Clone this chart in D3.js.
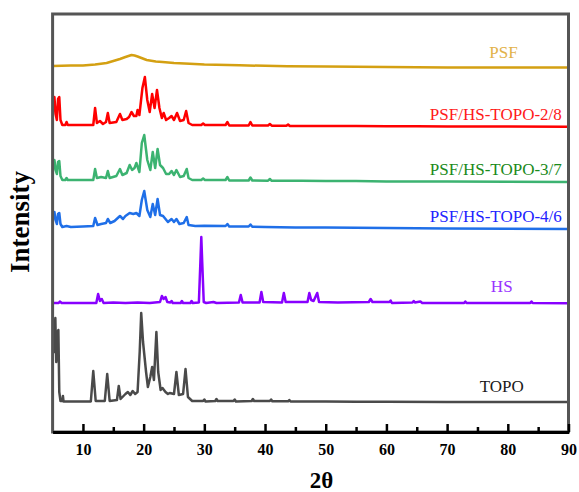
<!DOCTYPE html>
<html>
<head>
<meta charset="utf-8">
<script src="https://cdn.jsdelivr.net/npm/d3@7"></script>
<style>
  body { margin: 0; background: #fff; }
  text { font-family: "Liberation Serif", "Times New Roman", serif; }
</style>
</head>
<body>
<div id="vis"></div>
<script>
const width = 579;
const height = 492;
const margin = { top: 14, right: 10.5, bottom: 60, left: 52.6 };

// x tick labels (2θ)
const majorTicks = [10, 20, 30, 40, 50, 60, 70, 80, 90];
const minorTicks = [15, 25, 35, 45, 55, 65, 75, 85];

// XRD patterns, [2θ, intensity (a.u., stacked)]
const psf = [[5,366],[8,366.5],[10,366.5],[12,367.5],[13.9,369],[16.1,373],[17,375],[18,377],[18.5,376.5],[19,375.5],[20.5,372],[22,370.5],[23.1,370],[25,369],[27.6,368.3],[30,367.5],[35.8,366.7],[43.7,365.7],[50,365.5],[60,365],[70,364.6],[80,364.5],[90,364.5]];

const psf28 = [[5.0,307],[5.1,333],[5.3,335],[5.5,318],[5.7,312],[5.9,333],[6.1,335],[6.3,312],[6.6,307],[7.1,307],[7.3,310],[7.5,307],[11.7,307],[12.0,324],[12.3,309],[12.8,311],[13.3,308],[13.8,310],[14.1,319],[14.4,309],[15.5,310],[16.1,318],[16.5,312],[17.2,313],[17.6,315],[18.0,320],[18.4,316],[18.8,316],[19.0,322],[19.3,317],[19.8,344],[20.2,355],[20.6,332],[21.0,320],[21.4,338],[21.8,324],[22.2,342],[22.6,324],[23.0,314],[23.3,319],[23.7,312],[24.2,314],[24.6,316],[25.0,312],[25.5,319],[26.0,311],[26.6,312],[27.0,321],[27.4,309],[28.0,307],[29.5,307],[29.8,308.5],[30.1,307],[33.5,307],[33.8,310],[34.1,306.5],[37.3,306.5],[37.6,310],[37.9,306.5],[40.5,306.5],[40.8,308],[41.1,306.3],[43.5,306.3],[43.8,307.5],[44.1,306],[50,306],[55,306],[60,305.8],[65,305.8],[70,305.5],[80,305.5],[90,305.3]];

const psf37 = [[5.0,252],[5.1,270],[5.3,272],[5.5,262],[5.7,258],[5.9,270],[6.1,271],[6.3,256],[6.6,252],[7.1,252],[7.3,254],[7.5,252],[11.7,252],[12.0,263],[12.3,254],[13.0,255],[13.8,254],[14.1,261],[14.4,254],[15.5,256],[16.1,263],[16.5,257],[17.2,259],[17.7,267],[18.1,262],[18.5,264],[18.8,269],[19.3,260],[19.7,289],[20.1,297],[20.6,272],[21.1,262],[21.5,280],[21.9,264],[22.3,283],[22.7,267],[23.2,264],[23.7,258],[24.2,258],[24.6,261],[25.0,257],[25.4,262],[26.0,255],[26.6,256],[27.1,263],[27.4,254],[28.0,252],[29.5,252],[29.8,253.5],[30.1,252],[33.5,252],[33.8,255],[34.1,251.5],[37.3,251.5],[37.6,254.5],[37.9,251.5],[40.5,251.3],[40.8,253],[41.1,251.2],[46,251.2],[50,251],[55,251],[60,250.5],[70,250.5],[80,250.2],[90,250]];

const psf46 = [[5.0,205],[5.1,218],[5.3,220],[5.5,212],[5.7,208],[5.9,218],[6.1,219],[6.3,208],[6.6,205],[7.3,206],[8,205],[10,205.5],[11.7,206],[12.0,214],[12.4,207],[13.0,208],[13.8,209],[14.1,213],[14.5,209],[15.2,211],[16.1,216],[16.6,213],[17.0,216],[17.7,219],[18.3,218],[18.8,219],[19.3,216],[19.7,232],[20.1,241],[20.6,222],[21.1,215],[21.5,228],[21.9,217],[22.3,233],[22.7,217],[23.2,216],[24.0,210],[24.6,213],[25.0,210],[25.4,213],[25.9,208],[26.6,209],[27.1,215],[27.4,207],[28.5,206],[30,206.3],[33.5,206],[33.8,208],[34.1,205.5],[37.3,205.5],[37.6,207.5],[37.9,205.2],[40,205],[45,204.5],[50,204.5],[60,204],[70,203.5],[80,203.2],[90,203]];

const hs = [[5,129],[6.0,129],[6.2,130.5],[6.5,129],[12.2,129],[12.5,138],[12.8,131],[13.1,133],[13.4,129],[15,129.5],[17,129],[19,129.5],[21,129],[22.7,130],[23.0,136],[23.3,133],[23.6,135],[23.9,130],[24.4,129.5],[24.6,131],[24.8,129],[26.1,129],[26.3,131],[26.5,129],[27.7,129],[27.9,131],[28.1,129],[29.1,129.5],[29.35,170],[29.5,195],[29.65,170],[29.9,130],[30.3,129],[31.5,130],[32,129],[35.7,129.5],[36.0,137],[36.3,129.5],[39.1,129.5],[39.4,140],[39.7,130],[42.8,129.5],[43.1,139],[43.4,130],[47.0,130],[47.3,139],[47.6,132],[48.0,131],[48.6,139],[48.9,130],[52,129.5],[57.1,130],[57.4,133],[57.7,130],[60.5,130],[60.7,131.5],[60.9,129],[64.3,129.5],[64.5,131],[64.7,129.5],[65.6,130.5],[65.9,129],[72.8,129],[73.0,130.5],[73.2,129],[83.7,129],[83.9,130.5],[84.1,129],[90,128.7]];

const topo = [[5.0,107],[5.15,112],[5.3,80],[5.45,114],[5.6,70],[5.8,100],[5.95,102],[6.1,40],[6.3,31],[6.6,31],[6.7,36],[6.8,30.5],[11.3,30.5],[11.7,61],[12.1,31],[13.6,31],[14.0,58],[14.4,31],[15.6,32],[15.9,46],[16.2,33],[17.0,38],[17.4,40],[17.8,37],[18.2,41],[18.6,38],[19.0,40],[19.35,80],[19.6,119],[19.9,90],[20.1,78],[20.4,60],[20.7,45],[21.1,55],[21.4,65],[21.7,52],[22.1,100],[22.4,60],[22.8,42],[23.1,44],[23.6,40],[24.0,38],[24.3,39],[25.0,38],[25.4,60],[25.8,37],[26.5,38],[26.9,63],[27.3,35],[28.0,31],[29.8,31],[30.0,32.5],[30.2,30.5],[31.8,31],[32.0,33],[32.2,31],[34.8,31],[35.0,32.5],[35.2,30.5],[37.8,31],[38.0,33],[38.2,31],[40.8,31],[41.0,32.5],[41.2,30.7],[43.8,30.7],[44.0,32],[44.2,30.5],[47,30.5],[50,30.5],[55,30.3],[60,30.3],[70,30],[80,30],[90,30]];

const seriesNames = ["PSF", "PSF/HS-TOPO-2/8", "PSF/HS-TOPO-3/7", "PSF/HS-TOPO-4/6", "HS", "TOPO"];
const seriesData = [psf, psf28, psf37, psf46, hs, topo];

// styling / label placement (2θ, intensity, anchor)
const lineColors = ["#d4a012", "#ff0000", "#3cb371", "#1f6fe8", "#8800ff", "#4a4a4a"];
const textColors = ["#e2b24a", "#ff1a1a", "#1a8a1a", "#2222ff", "#9933ff", "#1a1a1a"];
const labelPos = [[79.3, 374, "middle"], [88.9, 312, "end"], [88.9, 257, "end"], [88.9, 210, "end"], [79.0, 140, "middle"], [79.0, 40, "middle"]];

const svg = d3.select("#vis").append("svg")
  .attr("width", width)
  .attr("height", height);

const x = d3.scaleLinear().domain([5, 90]).range([margin.left, width - margin.right]);
const y = d3.scaleLinear().domain([0, 418]).range([height - margin.bottom, margin.top]);

svg.append("clipPath").attr("id", "clip")
  .append("rect")
  .attr("x", margin.left).attr("y", margin.top)
  .attr("width", width - margin.right - margin.left)
  .attr("height", height - margin.bottom - margin.top);

const line = d3.line().x(d => x(d[0])).y(d => y(d[1]));

svg.append("g").attr("clip-path", "url(#clip)")
  .selectAll("path")
  .data(seriesData)
  .join("path")
  .attr("d", line)
  .attr("fill", "none")
  .attr("stroke", (d, i) => lineColors[i])
  .attr("stroke-width", 2.5)
  .attr("stroke-linejoin", "round");

// series labels
svg.append("g")
  .selectAll("text")
  .data(seriesNames)
  .join("text")
  .attr("x", (d, i) => x(labelPos[i][0]))
  .attr("y", (d, i) => y(labelPos[i][1]))
  .attr("text-anchor", (d, i) => labelPos[i][2])
  .attr("fill", (d, i) => textColors[i])
  .attr("font-size", 17)
  .text(d => d);

// frame
svg.append("rect")
  .attr("x", margin.left).attr("y", margin.top)
  .attr("width", width - margin.right - margin.left)
  .attr("height", height - margin.bottom - margin.top)
  .attr("fill", "none")
  .attr("stroke", "#555")
  .attr("stroke-width", 3);

// minor ticks
svg.append("g")
  .attr("transform", `translate(0,${height - margin.bottom})`)
  .call(d3.axisBottom(x).tickValues(minorTicks).tickSize(-5).tickSizeOuter(0).tickFormat(""))
  .call(g => g.select(".domain").remove())
  .call(g => g.selectAll(".tick line").attr("stroke", "#000").attr("stroke-width", 2.5));

// major ticks and labels
svg.append("g")
  .attr("transform", `translate(0,${height - margin.bottom})`)
  .call(d3.axisBottom(x).tickValues(majorTicks).tickSize(-8).tickSizeOuter(0).tickPadding(12))
  .call(g => g.select(".domain").attr("stroke", "#000").attr("stroke-width", 3))
  .call(g => g.selectAll(".tick line").attr("stroke", "#000").attr("stroke-width", 2.5))
  .call(g => g.selectAll(".tick text")
    .attr("font-family", "Liberation Serif, serif")
    .attr("font-size", 16)
    .attr("font-weight", "bold")
    .attr("fill", "#000"));

// axis titles
svg.append("text")
  .attr("x", (margin.left + width - margin.right) / 2 + 11)
  .attr("y", 488)
  .attr("text-anchor", "middle")
  .attr("font-size", 23)
  .attr("font-weight", "bold")
  .text("2θ");

svg.append("text")
  .attr("transform", "translate(29,222) rotate(-90)")
  .attr("text-anchor", "middle")
  .attr("font-size", 27)
  .attr("font-weight", "bold")
  .text("Intensity");
</script>
</body>
</html>
